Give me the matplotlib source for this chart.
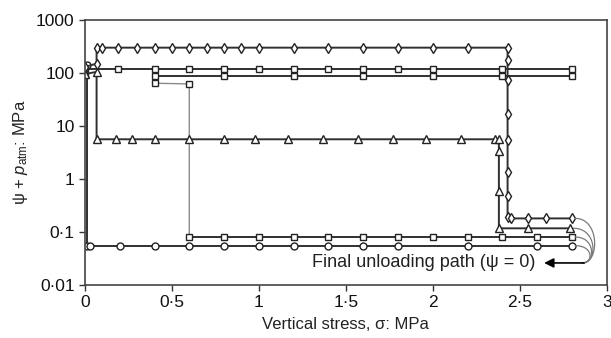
import numpy as np
import matplotlib
matplotlib.use("Agg")
import matplotlib.pyplot as plt
from matplotlib.ticker import FixedLocator, FuncFormatter, NullLocator

plt.rcParams['font.family'] = ['Liberation Sans', 'DejaVu Sans']
plt.rcParams['mathtext.fontset'] = 'custom'
plt.rcParams['mathtext.rm'] = 'Liberation Sans'
plt.rcParams['mathtext.it'] = 'Liberation Sans:italic'

# --- data (sigma in MPa, psi + p_atm in MPa) ---
dia_sigma = [0.0, 0.067, 0.067, 0.10, 0.19, 0.30, 0.40, 0.50, 0.60, 0.70, 0.80, 0.90, 1.0,
             1.2, 1.4, 1.6, 1.8, 2.0, 2.2, 2.43, 2.43, 2.43, 2.43, 2.43, 2.43, 2.43, 2.43,
             2.45, 2.55, 2.65, 2.80]
dia_psi = [130, 150, 300, 300, 300, 300, 300, 300, 300, 300, 300, 300, 300,
           300, 300, 300, 300, 300, 300, 300, 176, 74, 16.6, 5.5, 1.34, 0.48, 0.19,
           0.18, 0.18, 0.18, 0.18]

tri_sigma = [0.0, 0.067, 0.067, 0.18, 0.27, 0.40, 0.60, 0.80, 0.98, 1.17, 1.37, 1.57,
             1.77, 1.96, 2.16, 2.36, 2.38, 2.38, 2.38, 2.38, 2.55, 2.79]
tri_psi = [95, 105, 5.6, 5.6, 5.6, 5.6, 5.6, 5.6, 5.6, 5.6, 5.6, 5.6,
           5.6, 5.6, 5.6, 5.6, 5.6, 3.4, 0.58, 0.117, 0.117, 0.117]

sq_sigma = [0.0, 0.0, 0.19, 0.4, 0.6, 0.8, 1.0, 1.2, 1.4, 1.6, 1.8, 2.0, 2.4, 2.8,
            2.8, 2.4, 2.0, 1.6, 1.2, 0.8, 0.4, 0.4]
sq_psi = [90, 117, 117, 117, 117, 117, 117, 117, 117, 117, 117, 117, 117, 117,
          87, 87, 87, 87, 87, 87, 87, 66]
# wetting branch of the square test
sq_wet_sigma = [0.4, 0.6, 0.6]
sq_wet_psi = [64, 62, 0.08]
sq_low_sigma = [0.6, 0.8, 1.0, 1.2, 1.4, 1.6, 1.8, 2.0, 2.2, 2.4, 2.6, 2.8]
sq_low_psi = [0.08] * len(sq_low_sigma)

circ_sigma = [0.01, 0.01, 0.03, 0.2, 0.4, 0.6, 0.8, 1.0, 1.2, 1.4, 1.6, 1.8, 2.2, 2.6, 2.8]
circ_psi = [140, 0.055, 0.055, 0.055, 0.055, 0.055, 0.055, 0.055, 0.055, 0.055,
            0.055, 0.055, 0.055, 0.055, 0.055]

x_ticks = [0, 0.5, 1, 1.5, 2, 2.5, 3]
y_ticks = [0.01, 0.1, 1, 10, 100, 1000]

fig = plt.figure(figsize=(6.11, 3.38), dpi=100)
ax = fig.add_axes([0.139, 0.157, 0.854, 0.784])

line_kw = dict(color="#303030", lw=1.4, mfc="white", mec="#222222", mew=1.0)

ax.plot(sq_wet_sigma, sq_wet_psi, color="#8a8a8a", lw=1.0, marker="s", ms=5,
        mfc="white", mec="#222222", mew=1.0, markevery=[1])
ax.plot(sq_low_sigma, sq_low_psi, marker="s", ms=5, **line_kw)
ax.plot(sq_sigma, sq_psi, marker="s", ms=5, **line_kw)
ax.plot(circ_sigma, circ_psi, marker="o", ms=5, **line_kw)
ax.plot(tri_sigma, tri_psi, marker="^", ms=6, **line_kw)
ax.plot(dia_sigma, dia_psi, marker="d", ms=5, **line_kw)

# final unloading curves from each end point, joining into an arrow
ends = [(dia_sigma[-1], dia_psi[-1]), (tri_sigma[-1], tri_psi[-1]),
        (sq_low_sigma[-1], sq_low_psi[-1]), (circ_sigma[-1], circ_psi[-1])]
join_x, join_y = 2.86, 0.026
t = np.linspace(0, 1, 60)
for i, (x0, y0) in enumerate(ends):
    bulge = 2.96 - 0.012 * i
    p0 = np.array([x0 + 0.02, np.log10(y0)])
    p1 = np.array([bulge, np.log10(y0)])
    p2 = np.array([bulge, np.log10(join_y)])
    p3 = np.array([join_x, np.log10(join_y)])
    pts = ((1 - t) ** 3)[:, None] * p0 + (3 * (1 - t) ** 2 * t)[:, None] * p1 \
        + (3 * (1 - t) * t ** 2)[:, None] * p2 + (t ** 3)[:, None] * p3
    ax.plot(pts[:, 0], 10 ** pts[:, 1], color="#7a7a7a", lw=0.9)

ax.annotate("", xy=(2.64, join_y), xytext=(join_x + 0.01, join_y),
            arrowprops=dict(arrowstyle="-|>", color="black", lw=1.2,
                            mutation_scale=14, shrinkA=0, shrinkB=0))
ax.text(2.59, join_y, "Final unloading path (ψ = 0)", ha="right", va="center",
        fontsize=13, color="#222222")

ax.set_yscale("log")
ax.set_xlim(0, 3)
ax.set_ylim(0.01, 1000)
ax.xaxis.set_major_locator(FixedLocator(x_ticks))
ax.yaxis.set_major_locator(FixedLocator(y_ticks))
ax.yaxis.set_minor_locator(NullLocator())
dot = lambda v, pos: ("%g" % v).replace(".", "·")
ax.xaxis.set_major_formatter(FuncFormatter(dot))
ax.yaxis.set_major_formatter(FuncFormatter(dot))
ax.tick_params(direction="out", length=4, width=1, colors="#333333",
               labelcolor="#111111", labelsize=12.5)
for sp in ax.spines.values():
    sp.set_color("#444444")
    sp.set_linewidth(1.2)

ax.set_xlabel("Vertical stress, σ: MPa", fontsize=12, color="#222222", labelpad=5)
ax.set_ylabel(r"ψ + $p_{\mathrm{atm}}$: MPa", fontsize=12, color="#222222", labelpad=4)

fig.savefig("out.png", dpi=100)
